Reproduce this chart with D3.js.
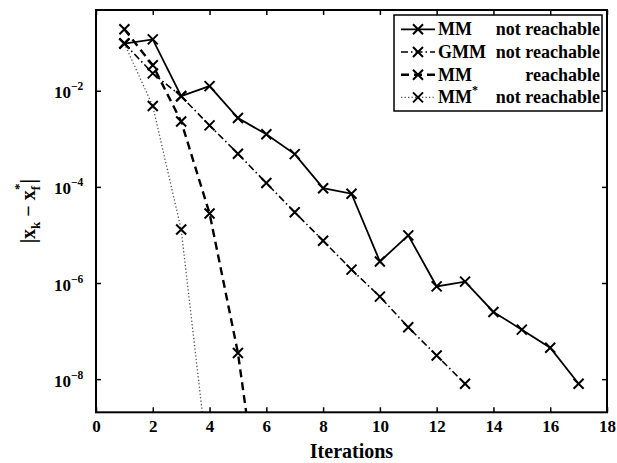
<!DOCTYPE html>
<html>
<head>
<meta charset="utf-8">
<script src="https://cdn.jsdelivr.net/npm/d3@7"></script>
<style>
  html, body { margin: 0; padding: 0; background: #fff; }
  svg { display: block; }
  text { font-family: "Liberation Serif", "Times New Roman", serif; font-weight: bold; fill: #000; }
</style>
</head>
<body>
<svg id="chart" width="617" height="463"></svg>
<script>
// ---- data ----
const mmNotReachX = [1,2,3,4,5,6,7,8,9,10,11,12,13,14,15,16,17];
const mmNotReachY = [0.096,0.117,7.7e-3,1.25e-2,2.7e-3,1.24e-3,4.8e-4,9.4e-5,7.2e-5,2.8e-6,9.8e-6,8.5e-7,1.07e-6,2.5e-7,1.07e-7,4.5e-8,8e-9];

const gmmNotReachX = [1,2,3,4,5,6,7,8,9,10,11,12,13];
const gmmNotReachY = [0.096,0.023,7.7e-3,1.9e-3,4.9e-4,1.2e-4,2.96e-5,7.6e-6,1.9e-6,5.2e-7,1.2e-7,3.1e-8,8e-9];

const mmReachX = [1,2,3,4,5,6];
const mmReachY = [0.19,0.034,2.3e-3,2.8e-5,3.5e-8,2e-12];

const mmStarNotReachX = [1,2,3,4];
const mmStarNotReachY = [0.096,4.8e-3,1.3e-5,1e-10];

const xTicks = [0,2,4,6,8,10,12,14,16,18];
const yTickExps = [-2,-4,-6,-8];
const xLabel = "Iterations";
const legendNames = ["MM", "GMM", "MM", "MM"];
const legendSups = ["", "", "", "*"];
const legendStates = ["not reachable", "not reachable", "reachable", "not reachable"];

// ---- layout ----
const L = 96, R = 607, T = 10, B = 412.3;
const svg = d3.select("#chart");
const x = d3.scaleLinear().domain([0, 18]).range([L, R]);
const y = d3.scaleLog().domain([Math.pow(10, -8.69), Math.pow(10, -0.32)]).range([B, T]);

svg.append("defs").append("clipPath").attr("id", "clip")
  .append("rect").attr("x", L).attr("y", T).attr("width", R - L).attr("height", B - T);

// ticks
const tickVals = yTickExps.map(e => Math.pow(10, e));
svg.append("g").attr("transform", `translate(0,${B})`)
  .call(d3.axisBottom(x).tickValues(xTicks).tickSize(-5).tickPadding(8).tickFormat(d3.format("d")))
  .call(g => g.select(".domain").remove())
  .call(g => g.selectAll("line").attr("stroke", "#000").attr("stroke-width", 1.5))
  .call(g => g.selectAll("text").attr("font-size", 17).attr("font-family", "Liberation Serif, serif").attr("font-weight", "bold").attr("fill", "#000"));
svg.append("g").attr("transform", `translate(0,${T})`)
  .call(d3.axisTop(x).tickValues(xTicks).tickSize(-5).tickFormat(""))
  .call(g => g.select(".domain").remove())
  .call(g => g.selectAll("line").attr("stroke", "#000").attr("stroke-width", 1.5));
svg.append("g").attr("transform", `translate(${L},0)`)
  .call(d3.axisLeft(y).tickValues(tickVals).tickSize(-5).tickFormat(""))
  .call(g => g.select(".domain").remove())
  .call(g => g.selectAll("line").attr("stroke", "#000").attr("stroke-width", 1.5));
svg.append("g").attr("transform", `translate(${R},0)`)
  .call(d3.axisRight(y).tickValues(tickVals).tickSize(-5).tickFormat(""))
  .call(g => g.select(".domain").remove())
  .call(g => g.selectAll("line").attr("stroke", "#000").attr("stroke-width", 1.5));

// y tick labels with superscripts
const yl = svg.append("g");
yTickExps.forEach(e => {
  const t = yl.append("text").attr("x", 54).attr("y", y(Math.pow(10, e)) + 7.5).attr("font-size", 17);
  t.append("tspan").text("10");
  t.append("tspan").attr("dy", -8).attr("font-size", 11.5).text("\u2212" + Math.abs(e));
});

// lines
const line = d3.line().x(d => x(d[0])).y(d => y(d[1]));
const plot = svg.append("g").attr("clip-path", "url(#clip)");
const series = [
  { xs: mmNotReachX, ys: mmNotReachY, dash: null, width: 1.8, color: "#000" },
  { xs: gmmNotReachX, ys: gmmNotReachY, dash: "7,3,1.5,3", width: 1.6, color: "#000" },
  { xs: mmReachX, ys: mmReachY, dash: "8,5", width: 2.4, color: "#000" },
  { xs: mmStarNotReachX, ys: mmStarNotReachY, dash: "1.3,2.2", width: 1.3, color: "#555" }
];
const cross = "M-5,-5L5,5M-5,5L5,-5";
series.forEach(s => {
  const pts = s.xs.map((v, i) => [v, s.ys[i]]);
  plot.append("path").datum(pts).attr("d", line)
    .attr("fill", "none").attr("stroke", s.color).attr("stroke-width", s.width)
    .attr("stroke-dasharray", s.dash);
  plot.selectAll(null).data(pts).enter().append("path")
    .attr("d", cross).attr("transform", d => `translate(${x(d[0])},${y(d[1])})`)
    .attr("stroke", "#000").attr("stroke-width", 2).attr("fill", "none");
});

// box
svg.append("rect").attr("x", L).attr("y", T).attr("width", R - L).attr("height", B - T)
  .attr("fill", "none").attr("stroke", "#000").attr("stroke-width", 2);

// axis labels
svg.append("text").attr("x", (L + R) / 2).attr("y", 458).attr("text-anchor", "middle")
  .attr("font-size", 20).text(xLabel);
const yLab = svg.append("text").attr("transform", `translate(35,${(T + B) / 2}) rotate(-90)`)
  .attr("text-anchor", "middle").attr("font-size", 20);
yLab.append("tspan").text("|x");
yLab.append("tspan").attr("dy", 5).attr("font-size", 13).text("k");
yLab.append("tspan").attr("dy", -5).text(" \u2212 x");
yLab.append("tspan").attr("dy", 5).attr("font-size", 13).text("f");
yLab.append("tspan").attr("dy", -17).attr("dx", -4).attr("font-size", 13).text("*");
yLab.append("tspan").attr("dy", 12).text("|");

// legend
const lg = svg.append("g");
lg.append("rect").attr("x", 394).attr("y", 15).attr("width", 208).attr("height", 96)
  .attr("fill", "#fff").attr("stroke", "#000").attr("stroke-width", 1.5);
series.forEach((s, i) => {
  const by = 35.3 + 22.7 * i;
  const cy = by - 6;
  lg.append("line").attr("x1", 401).attr("x2", 435).attr("y1", cy).attr("y2", cy)
    .attr("stroke", s.color).attr("stroke-width", s.width).attr("stroke-dasharray", s.dash);
  lg.append("path").attr("d", cross).attr("transform", `translate(418,${cy})`)
    .attr("stroke", "#000").attr("stroke-width", 2).attr("fill", "none");
  const t = lg.append("text").attr("x", 438).attr("y", by).attr("font-size", 18);
  t.append("tspan").text(legendNames[i]);
  if (legendSups[i]) t.append("tspan").attr("dy", -9).attr("font-size", 12).text(legendSups[i]);
  lg.append("text").attr("x", 600).attr("y", by).attr("text-anchor", "end").attr("font-size", 18)
    .text(legendStates[i]);
});
</script>
</body>
</html>
